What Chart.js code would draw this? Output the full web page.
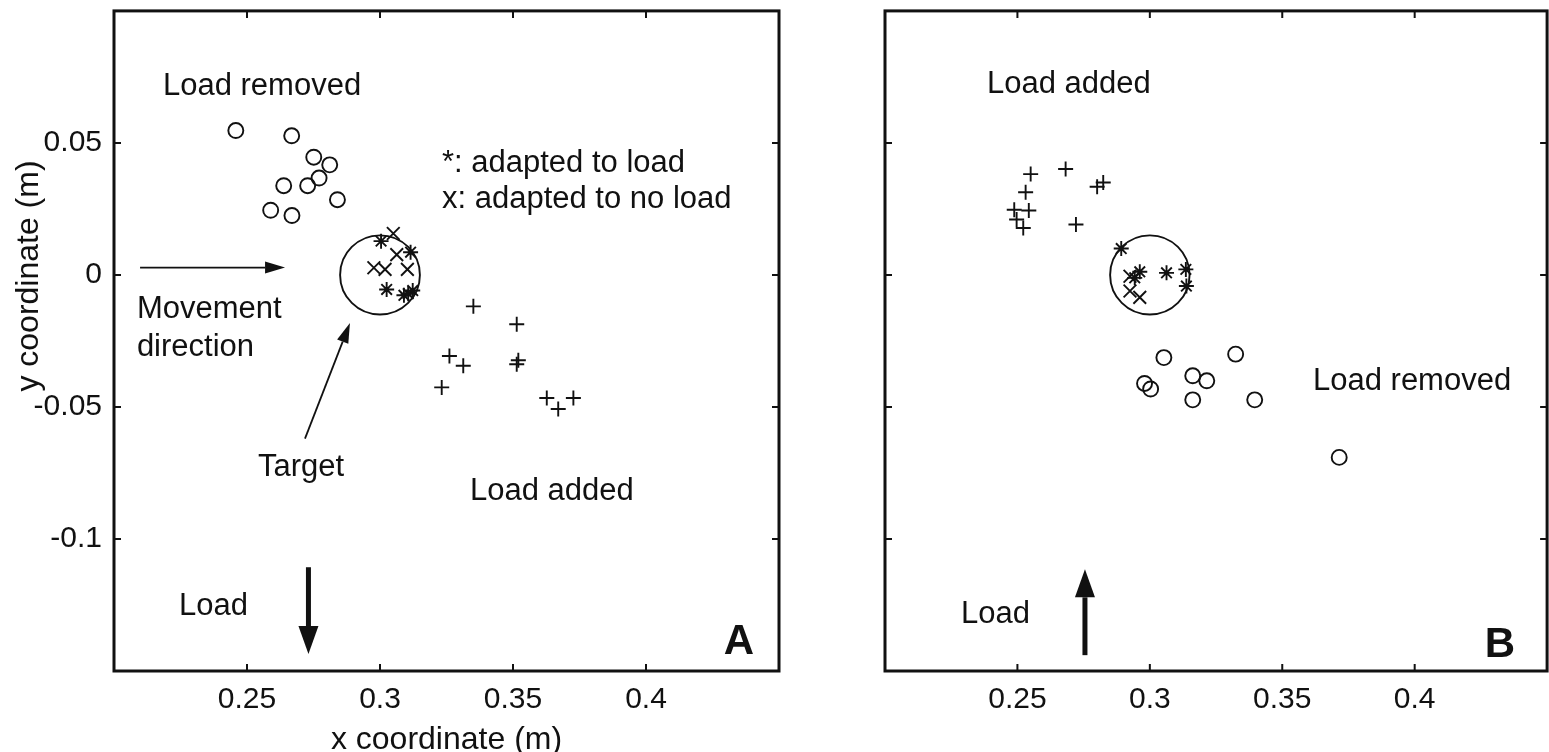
<!DOCTYPE html>
<html>
<head>
<meta charset="utf-8">
<script src="https://cdn.jsdelivr.net/npm/chart.js@4/dist/chart.umd.min.js"></script>
<style>
  html, body { margin: 0; padding: 0; background: #fff; }
  .wrap { position: relative; width: 1549px; height: 752px; overflow: hidden; }
  canvas { position: absolute; top: 0; }
  #panelA { left: 0; }
  #panelB { left: 830px; }
</style>
</head>
<body>
<div class="wrap">
  <canvas id="panelA" width="830" height="752"></canvas>
  <canvas id="panelB" width="728" height="752"></canvas>
</div>
<script>
// axis setup (metres)
const X_MIN = 0.2, X_MAX = 0.45
const Y_MIN = -0.15, Y_MAX = 0.1
const xTicks = [0.25, 0.3, 0.35, 0.4]
const yTicks = [-0.1, -0.05, 0, 0.05]

// target circle
const TARGET_X = 0.3, TARGET_Y = 0, TARGET_R = 0.015

// panel A: load pulls down
const removedAX = [0.2458, 0.2668, 0.2751, 0.2811, 0.2771, 0.2638, 0.2728, 0.2840, 0.2589, 0.2669]
const removedAY = [0.0547, 0.0527, 0.0446, 0.0417, 0.0367, 0.0338, 0.0338, 0.0285, 0.0245, 0.0225]
const addedAX = [0.3351, 0.3514, 0.3261, 0.3313, 0.3520, 0.3514, 0.3232, 0.3627, 0.3670, 0.3727]
const addedAY = [-0.0119, -0.0187, -0.0307, -0.0344, -0.0323, -0.0338, -0.0426, -0.0466, -0.0508, -0.0466]
const loadAdaptedAX = [0.3004, 0.3115, 0.3025, 0.3090, 0.3123, 0.3106]
const loadAdaptedAY = [0.0128, 0.0086, -0.0055, -0.0077, -0.0059, -0.0071]
const noLoadAdaptedAX = [0.3050, 0.3063, 0.2977, 0.3019, 0.3103]
const noLoadAdaptedAY = [0.0157, 0.0077, 0.0027, 0.0021, 0.0021]

// panel B: load pulls up
const addedBX = [0.2550, 0.2682, 0.2531, 0.2824, 0.2801, 0.2488, 0.2543, 0.2497, 0.2522, 0.2721]
const addedBY = [0.0382, 0.0401, 0.0313, 0.0350, 0.0334, 0.0247, 0.0244, 0.0210, 0.0178, 0.0191]
const removedBX = [0.3053, 0.3324, 0.2980, 0.3003, 0.3162, 0.3215, 0.3162, 0.3396, 0.3715]
const removedBY = [-0.0313, -0.0300, -0.0411, -0.0432, -0.0382, -0.0401, -0.0473, -0.0473, -0.0691]
const loadAdaptedBX = [0.2892, 0.2962, 0.2943, 0.3063, 0.3136, 0.3138]
const loadAdaptedBY = [0.0100, 0.0012, -0.0011, 0.0008, 0.0021, -0.0042]
const noLoadAdaptedBX = [0.2925, 0.2925, 0.2962]
const noLoadAdaptedBY = [-0.0005, -0.0061, -0.0085]

const FONT = "'Liberation Sans', Arial, sans-serif"
const INK = "#111"

const pts = (xs, ys) => xs.map((x, i) => ({ x, y: ys[i] }))

const marker = (data, style, radius) => ({
  data,
  pointStyle: style,
  pointRadius: radius,
  pointBorderColor: INK,
  pointBackgroundColor: "rgba(0,0,0,0)",
  pointBorderWidth: 1.9,
  showLine: false,
})

const fmt = (v) => (v === 0 ? "0" : String(+v.toFixed(2)))

// frame, inward ticks, target, arrows and text labels
const annotate = {
  id: "annotate",
  afterDraw(chart, args, opts) {
    const { ctx, chartArea: a } = chart
    const xs = chart.scales.x, ys = chart.scales.y
    const px = (v) => xs.getPixelForValue(v)
    const py = (v) => ys.getPixelForValue(v)
    ctx.save()
    ctx.strokeStyle = INK
    ctx.fillStyle = INK

    ctx.lineWidth = 3
    ctx.strokeRect(a.left, a.top, a.right - a.left, a.bottom - a.top)

    ctx.lineWidth = 2
    ctx.beginPath()
    xTicks.forEach((t) => {
      const x = px(t)
      ctx.moveTo(x, a.bottom); ctx.lineTo(x, a.bottom - 7)
      ctx.moveTo(x, a.top); ctx.lineTo(x, a.top + 7)
    })
    yTicks.forEach((t) => {
      const y = py(t)
      ctx.moveTo(a.left, y); ctx.lineTo(a.left + 7, y)
      ctx.moveTo(a.right, y); ctx.lineTo(a.right - 7, y)
    })
    ctx.stroke()

    // target
    const cx = px(TARGET_X), cy = py(TARGET_Y)
    const rx = Math.abs(px(TARGET_X + TARGET_R) - cx)
    const ry = Math.abs(py(TARGET_Y + TARGET_R) - cy)
    ctx.lineWidth = 1.9
    ctx.beginPath()
    ctx.ellipse(cx, cy, rx, ry, 0, 0, Math.PI * 2)
    ctx.stroke()

    // arrows
    ;(opts.arrows || []).forEach((ar) => {
      const x0 = px(ar.from[0]), y0 = py(ar.from[1])
      const x1 = px(ar.to[0]), y1 = py(ar.to[1])
      const ang = Math.atan2(y1 - y0, x1 - x0)
      const bx = x1 - Math.cos(ang) * ar.head
      const by = y1 - Math.sin(ang) * ar.head
      ctx.lineWidth = ar.width
      ctx.beginPath()
      ctx.moveTo(x0, y0)
      ctx.lineTo(bx, by)
      ctx.stroke()
      ctx.beginPath()
      ctx.moveTo(x1, y1)
      ctx.lineTo(bx + Math.sin(ang) * ar.half, by - Math.cos(ang) * ar.half)
      ctx.lineTo(bx - Math.sin(ang) * ar.half, by + Math.cos(ang) * ar.half)
      ctx.closePath()
      ctx.fill()
    })

    // labels
    ctx.textBaseline = "alphabetic"
    ;(opts.texts || []).forEach((t) => {
      ctx.font = (t.bold ? "bold " : "") + t.size + "px " + FONT
      ctx.textAlign = t.align || "left"
      ctx.fillText(t.text, px(t.at[0]), py(t.at[1]))
    })

    // axis titles
    if (opts.xTitle) {
      ctx.font = "32px " + FONT
      ctx.textAlign = "center"
      ctx.fillText(opts.xTitle, (a.left + a.right) / 2, 749)
    }
    if (opts.yTitle) {
      ctx.font = "32px " + FONT
      ctx.textAlign = "center"
      ctx.translate(38, 276)
      ctx.rotate(-Math.PI / 2)
      ctx.fillText(opts.yTitle, 0, 0)
    }
    ctx.restore()
  },
}

function makePanel(id, datasets, yAxisWidth, rightPad, showYLabels, annotations) {
  return new Chart(document.getElementById(id), {
    type: "scatter",
    data: { datasets },
    options: {
      responsive: false,
      animation: false,
      layout: { padding: { top: 9, right: rightPad, bottom: 0, left: 0 } },
      plugins: { legend: { display: false }, tooltip: { enabled: false }, annotate: annotations },
      scales: {
        x: {
          type: "linear",
          min: X_MIN,
          max: X_MAX,
          grid: { display: false, drawTicks: false },
          border: { display: false },
          afterBuildTicks: (s) => { s.ticks = xTicks.map((value) => ({ value })) },
          afterFit: (s) => { s.height = 81; s.paddingLeft = 0; s.paddingRight = 0 },
          ticks: {
            padding: 11,
            color: INK,
            font: { family: FONT, size: 30 },
            callback: fmt,
            maxRotation: 0,
          },
        },
        y: {
          type: "linear",
          min: Y_MIN,
          max: Y_MAX,
          grid: { display: false, drawTicks: false },
          border: { display: false },
          afterBuildTicks: (s) => { s.ticks = yTicks.map((value) => ({ value })) },
          afterFit: (s) => { s.width = yAxisWidth; s.paddingTop = 0; s.paddingBottom = 0 },
          ticks: {
            display: showYLabels,
            padding: 12,
            color: INK,
            font: { family: FONT, size: 30 },
            callback: fmt,
          },
        },
      },
    },
    plugins: [annotate],
  })
}

const thin = { width: 1.8, head: 20, half: 6 }
const thick = { width: 5, head: 28, half: 10 }

makePanel(
  "panelA",
  [
    marker(pts(removedAX, removedAY), "circle", 7.5),
    marker(pts(addedAX, addedAY), "cross", 7.5),
    marker(pts(loadAdaptedAX, loadAdaptedAY), "star", 7.5),
    marker(pts(noLoadAdaptedAX, noLoadAdaptedAY), "crossRot", 9),
  ],
  114,
  51,
  true,
  {
    xTitle: "x coordinate (m)",
    yTitle: "y coordinate (m)",
    texts: [
      { text: "Load removed", at: [0.2184, 0.0683], size: 31 },
      { text: "*: adapted to load", at: [0.3233, 0.0388], size: 31 },
      { text: "x: adapted to no load", at: [0.3233, 0.0252], size: 31 },
      { text: "Movement", at: [0.2086, -0.0163], size: 31 },
      { text: "direction", at: [0.2086, -0.0307], size: 31 },
      { text: "Target", at: [0.2541, -0.076], size: 31 },
      { text: "Load added", at: [0.3338, -0.0854], size: 31 },
      { text: "Load", at: [0.2244, -0.1289], size: 31 },
      { text: "A", at: [0.4406, -0.1436], size: 42, bold: true, align: "right" },
    ],
    arrows: [
      { from: [0.2098, 0.0028], to: [0.2643, 0.0028], ...thin },
      { from: [0.2718, -0.062], to: [0.2887, -0.0182], ...thin },
      { from: [0.2731, -0.1107], to: [0.2731, -0.1436], ...thick },
    ],
  }
)

makePanel(
  "panelB",
  [
    marker(pts(removedBX, removedBY), "circle", 7.5),
    marker(pts(addedBX, addedBY), "cross", 7.5),
    marker(pts(loadAdaptedBX, loadAdaptedBY), "star", 7.5),
    marker(pts(noLoadAdaptedBX, noLoadAdaptedBY), "crossRot", 9),
  ],
  55,
  0,
  false,
  {
    texts: [
      { text: "Load added", at: [0.2385, 0.069], size: 31 },
      { text: "Load removed", at: [0.3616, -0.0435], size: 31 },
      { text: "Load", at: [0.2287, -0.1319], size: 31 },
      { text: "B", at: [0.4379, -0.1447], size: 42, bold: true, align: "right" },
    ],
    arrows: [
      { from: [0.2755, -0.144], to: [0.2755, -0.1115], ...thick },
    ],
  }
)
</script>
</body>
</html>
